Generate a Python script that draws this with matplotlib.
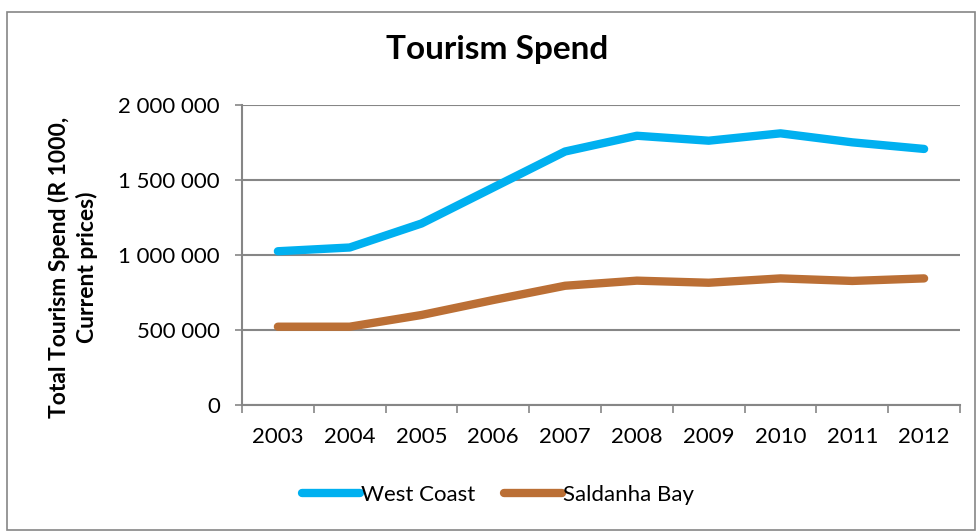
import matplotlib
matplotlib.use("Agg")
import matplotlib.pyplot as plt
from matplotlib.patches import Rectangle
from matplotlib.ticker import FuncFormatter, FixedLocator

# Tourism spend per year, R 1000 (current prices)
years = ['2003', '2004', '2005', '2006', '2007', '2008', '2009', '2010', '2011', '2012']
west_coast = [1025000, 1050000, 1210000, 1450000, 1690000, 1795000, 1762000, 1811000, 1751000, 1707000]
saldanha_bay = [522000, 522000, 600000, 700000, 795000, 829000, 815000, 844000, 827000, 844000]

plt.rcParams['font.family'] = ['Lato', 'DejaVu Sans']

fig = plt.figure(figsize=(9.79, 5.32), dpi=100)
ax = fig.add_axes([242 / 979, 1 - 405 / 532, (960 - 242) / 979, 300 / 532])

x = list(range(len(years)))
ax.plot(x, west_coast, color='#00B0F0', lw=6, solid_capstyle='round', label='West Coast')
ax.plot(x, saldanha_bay, color='#BB6F35', lw=6, solid_capstyle='round', label='Saldanha Bay')

ax.set_xlim(-0.5, len(years) - 0.5)
ax.set_ylim(0, 2000000)
ax.set_yticks([0, 500000, 1000000, 1500000, 2000000])
ax.yaxis.set_major_formatter(FuncFormatter(lambda v, p: f'{int(v):,}'.replace(',', ' ')))
ax.yaxis.grid(True, color='#868686', lw=1.5)
ax.set_axisbelow(True)

ax.set_xticks(x)
ax.set_xticklabels(years)
ax.xaxis.set_minor_locator(FixedLocator([i - 0.5 for i in range(len(years) + 1)]))
ax.tick_params(axis='x', which='major', length=0, pad=16, labelsize=16)
ax.tick_params(axis='x', which='minor', length=6, width=1.2, color='#868686')
ax.tick_params(axis='y', length=5, width=1.2, color='#868686', labelsize=16, pad=11)

for s in ['top', 'right']:
    ax.spines[s].set_visible(False)
for s in ['left', 'bottom']:
    ax.spines[s].set_color('#868686')
    ax.spines[s].set_linewidth(1.5)

fig.text(73 / 979, 1 - 267 / 532, 'Total Tourism Spend (R 1000,\nCurrent prices)', rotation=90,
         ha='center', va='center', multialignment='center', fontweight='bold',
         fontsize=16.5, linespacing=1.35)
fig.text(497 / 979, 1 - 49 / 532, 'Tourism Spend', ha='center', va='center',
         fontsize=24, fontweight='bold')

fig.legend(loc='center', bbox_to_anchor=(498 / 979, 1 - 495 / 532), ncol=2, frameon=False,
           fontsize=16, handlelength=2.6, handletextpad=0.05, columnspacing=1.3)

# outer chart border
fig.patches.append(Rectangle((7 / 979, 2 / 532), 968 / 979, 518 / 532, transform=fig.transFigure,
                             fill=False, edgecolor='#868686', lw=1.2))

fig.savefig('out.png', dpi=100)
